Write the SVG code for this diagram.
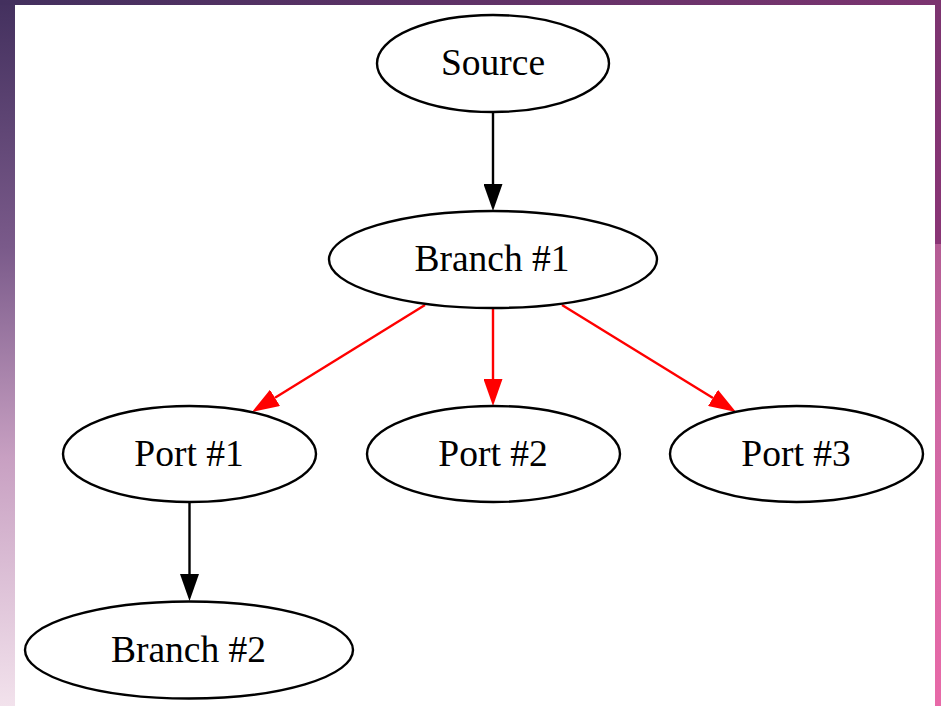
<svg xmlns="http://www.w3.org/2000/svg" width="941" height="706" viewBox="0 0 941 706">
<defs>
<linearGradient id="gl" x1="0" y1="0" x2="0" y2="1"><stop offset="0" stop-color="#43305e"/><stop offset="0.35" stop-color="#7a5a8a"/><stop offset="0.65" stop-color="#c8a0c2"/><stop offset="1" stop-color="#f2e2ec"/></linearGradient>
<linearGradient id="gt" x1="0" y1="0" x2="1" y2="0"><stop offset="0" stop-color="#43305e"/><stop offset="1" stop-color="#7c3470"/></linearGradient>
<linearGradient id="gr" x1="0" y1="0" x2="0" y2="1"><stop offset="0" stop-color="#7c3470"/><stop offset="0.345" stop-color="#8a3576"/><stop offset="0.346" stop-color="#b45c94"/><stop offset="0.6" stop-color="#d068a4"/><stop offset="1" stop-color="#e86aa8"/></linearGradient>
<marker id="ab" viewBox="0 0 27 19" refX="0" refY="9.5" markerWidth="27" markerHeight="19" markerUnits="userSpaceOnUse" orient="auto"><path d="M0,0 L27,9.5 L0,19 z" fill="#000"/></marker>
<marker id="ar" viewBox="0 0 27 19" refX="0" refY="9.5" markerWidth="27" markerHeight="19" markerUnits="userSpaceOnUse" orient="auto"><path d="M0,0 L27,9.5 L0,19 z" fill="#ff0000"/></marker>
</defs>
<style>
.n ellipse{fill:#fff;stroke:#000;stroke-width:2.4}
.n text{font-family:"Liberation Serif","Times New Roman",serif;font-size:37.5px;text-anchor:middle;fill:#000}
.e line{stroke-width:2.4;fill:none}
.k{stroke:#000}
.r{stroke:#ff0000}
</style>
<rect x="0" y="0" width="941" height="706" fill="#fff"/>
<rect x="0" y="0" width="15" height="706" fill="url(#gl)"/>
<rect x="0" y="0" width="941" height="5" fill="url(#gt)"/>
<rect x="935" y="0" width="6" height="706" fill="url(#gr)"/>
<g id="edges" class="e">
<line class="k" x1="493" y1="112" x2="493" y2="184" marker-end="url(#ab)"/>
<line class="r" x1="425" y1="305" x2="275" y2="397.8" marker-end="url(#ar)"/>
<line class="r" x1="493" y1="308" x2="493" y2="379" marker-end="url(#ar)"/>
<line class="r" x1="562" y1="305" x2="713" y2="397.9" marker-end="url(#ar)"/>
<line class="k" x1="189.5" y1="502" x2="189.5" y2="574" marker-end="url(#ab)"/>
</g>
<g id="source" class="n"><ellipse cx="493" cy="63.5" rx="116" ry="48.5"/><text x="493" y="75">Source</text></g>
<g id="branch1" class="n"><ellipse cx="493" cy="259.5" rx="164" ry="48.5"/><text x="492" y="271">Branch #1</text></g>
<g id="port1" class="n"><ellipse cx="189.5" cy="454" rx="126.5" ry="48"/><text x="189" y="466">Port #1</text></g>
<g id="port2" class="n"><ellipse cx="493.5" cy="454" rx="126.5" ry="48"/><text x="493" y="466">Port #2</text></g>
<g id="port3" class="n"><ellipse cx="796.5" cy="454" rx="126.5" ry="48"/><text x="796" y="466">Port #3</text></g>
<g id="branch2" class="n"><ellipse cx="189" cy="650" rx="164" ry="48.5"/><text x="188.5" y="662">Branch #2</text></g>
</svg>
